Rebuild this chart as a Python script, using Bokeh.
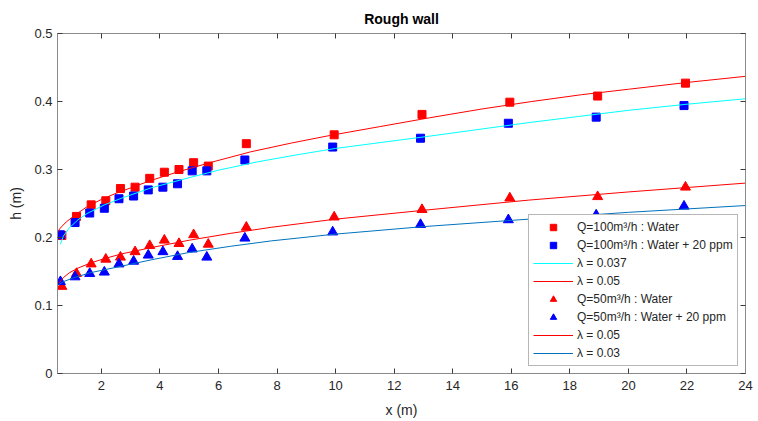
from bokeh.plotting import figure
from bokeh.models import (LinearAxis, FixedTicker, Range1d, Legend, LegendItem)
from bokeh.embed import file_html
from bokeh.resources import INLINE

# ---------------- data ----------------
# Q = 100 m3/h, water (red squares)
x_q100_w = [0.65, 1.15, 1.65, 2.15, 2.65, 3.15, 3.65, 4.15, 4.65, 5.15, 5.65, 6.95, 9.95, 12.95, 15.95, 18.95, 21.95]
h_q100_w = [0.203, 0.231, 0.248, 0.254, 0.272, 0.274, 0.287, 0.296, 0.300, 0.310, 0.305, 0.338, 0.351, 0.381, 0.399, 0.408, 0.427]
# Q = 100 m3/h, water + 20 ppm (blue squares)
x_q100_p = [0.6, 1.1, 1.6, 2.1, 2.6, 3.1, 3.6, 4.1, 4.6, 5.1, 5.6, 6.9, 9.9, 12.9, 15.9, 18.9, 21.9]
h_q100_p = [0.204, 0.222, 0.236, 0.243, 0.257, 0.261, 0.270, 0.274, 0.279, 0.298, 0.298, 0.314, 0.333, 0.346, 0.368, 0.377, 0.394]
# Q = 50 m3/h, water (red triangles)
x_q50_w = [0.65, 1.15, 1.65, 2.15, 2.65, 3.15, 3.65, 4.15, 4.65, 5.15, 5.65, 6.95, 9.95, 12.95, 15.95, 18.95, 21.95]
h_q50_w = [0.128, 0.147, 0.161, 0.168, 0.171, 0.179, 0.188, 0.196, 0.191, 0.204, 0.190, 0.215, 0.230, 0.241, 0.258, 0.260, 0.274]
# Q = 50 m3/h, water + 20 ppm (blue triangles)
x_q50_p = [0.6, 1.1, 1.6, 2.1, 2.6, 3.1, 3.6, 4.1, 4.6, 5.1, 5.6, 6.9, 9.9, 12.9, 15.9, 18.9, 21.9]
h_q50_p = [0.135, 0.142, 0.147, 0.149, 0.161, 0.165, 0.174, 0.179, 0.172, 0.183, 0.171, 0.199, 0.208, 0.219, 0.226, 0.233, 0.246]

# curves
x_c1 = [0.5, 0.6, 0.8, 1.1, 1.5, 2.0, 2.5, 3.0, 3.7, 4.5, 5.7, 7.1, 8.5, 9.8, 11.5, 13.2, 15.0, 16.7, 18.4, 20.0, 22.0, 24.0]
h_c1 = [0.208, 0.214, 0.223, 0.233, 0.245, 0.256, 0.265, 0.273, 0.284, 0.295, 0.310, 0.326, 0.339, 0.350, 0.363, 0.376, 0.389, 0.400, 0.410, 0.418, 0.428, 0.437]   # lambda 0.05, Q100
x_c2 = [0.6, 0.7, 0.9, 1.2, 1.5, 2.1, 2.7, 3.7, 5.0, 6.0, 7.3, 8.6, 10.0, 11.6, 13.2, 14.9, 16.6, 18.3, 20.0, 22.0, 24.0]
h_c2 = [0.190, 0.202, 0.214, 0.226, 0.235, 0.248, 0.258, 0.273, 0.288, 0.299, 0.311, 0.321, 0.331, 0.340, 0.349, 0.359, 0.369, 0.378, 0.387, 0.396, 0.404]   # lambda 0.037
x_c3 = [0.55, 0.7, 0.9, 1.2, 1.6, 2.1, 2.7, 3.8, 5.0, 6.4, 7.8, 10.0, 13.0, 16.6, 20.0, 24.0]
h_c3 = [0.133, 0.141, 0.148, 0.155, 0.162, 0.169, 0.176, 0.186, 0.196, 0.206, 0.215, 0.227, 0.240, 0.255, 0.267, 0.280]   # lambda 0.05, Q50
x_c4 = [0.55, 0.7, 1.0, 1.6, 2.7, 3.8, 5.0, 6.4, 7.8, 10.0, 13.0, 16.6, 20.0, 24.0]
h_c4 = [0.131, 0.135, 0.140, 0.148, 0.158, 0.168, 0.178, 0.187, 0.195, 0.205, 0.216, 0.227, 0.237, 0.247]   # lambda 0.03

x_ticks = [2, 4, 6, 8, 10, 12, 14, 16, 18, 20, 22, 24]
y_ticks = [0, 0.1, 0.2, 0.3, 0.4, 0.5]
y_tick_labels = ["0", "0.1", "0.2", "0.3", "0.4", "0.5"]

labels = ["Q=100m\u00b3/h : Water", "Q=100m\u00b3/h : Water + 20 ppm", "\u03bb = 0.037", "\u03bb = 0.05",
          "Q=50m\u00b3/h : Water", "Q=50m\u00b3/h : Water + 20 ppm", "\u03bb = 0.05", "\u03bb = 0.03"]

FONT = "Liberation Sans"
AX_LINE = "#8a8a8a"
TXT = "#262626"

p = figure(frame_width=688, frame_height=340, output_backend="svg", toolbar_location=None,
           x_range=Range1d(0.5, 24), y_range=Range1d(0, 0.5),
           min_border_left=57, min_border_right=10, min_border_top=33, min_border_bottom=47,
           x_axis_label="x (m)", y_axis_label="h (m)")
p.outline_line_color = None
p.grid.visible = False
p.background_fill_color = "white"
p.border_fill_color = "white"

p.title.text = "Rough wall"
p.title.align = "center"
p.title.text_font = FONT
p.title.text_font_size = "14px"
p.title.text_font_style = "bold"
p.title.text_color = "black"
p.title.standoff = 13

def style_axis(ax, show_labels=True):
    ax.axis_line_color = AX_LINE
    ax.major_tick_line_color = "#3a3a3a"
    ax.major_tick_in = 5
    ax.major_tick_out = 0
    ax.minor_tick_line_color = None
    ax.major_label_text_font = FONT
    ax.major_label_text_color = TXT
    ax.axis_label_text_font = FONT
    ax.axis_label_text_font_style = "normal"
    ax.axis_label_text_color = TXT
    ax.major_label_text_font_size = "13px"
    ax.axis_label_text_font_size = "14px"
    if not show_labels:
        ax.major_label_overrides = {t: "" for t in ax.ticker.ticks}
        ax.major_label_text_font_size = "1px"
        ax.major_label_standoff = 0

xb = p.xaxis[0]
yl = p.yaxis[0]
xb.ticker = FixedTicker(ticks=x_ticks)
yl.ticker = FixedTicker(ticks=y_ticks)
yl.major_label_overrides = dict(zip(y_ticks, y_tick_labels))
style_axis(xb)
style_axis(yl)
xb.major_label_standoff = 7
xb.axis_label_standoff = 9
yl.major_label_standoff = 5
yl.axis_label_standoff = 7

xt = LinearAxis(ticker=FixedTicker(ticks=x_ticks))
yr = LinearAxis(ticker=FixedTicker(ticks=y_ticks))
style_axis(xt, False)
style_axis(yr, False)
p.add_layout(xt, "above")
p.add_layout(yr, "right")

RED = "#ff0000"
BLUE = "#0000ff"

r1 = p.scatter(x_q100_w, h_q100_w, marker="square", size=8, fill_color=RED, line_color=RED)
r2 = p.scatter(x_q100_p, h_q100_p, marker="square", size=8, fill_color=BLUE, line_color=BLUE)
r3 = p.line(x_c2, h_c2, line_color="#00ffff", line_width=1)
r4 = p.line(x_c1, h_c1, line_color=RED, line_width=1)
r5 = p.scatter(x_q50_w, h_q50_w, marker="triangle", size=10, fill_color=RED, line_color=RED)
r6 = p.scatter(x_q50_p, h_q50_p, marker="triangle", size=10, fill_color=BLUE, line_color=BLUE)
r7 = p.line(x_c3, h_c3, line_color=RED, line_width=1)
r8 = p.line(x_c4, h_c4, line_color="#0072bd", line_width=1)

rs = [r1, r2, r3, r4, r5, r6, r7, r8]
items = [LegendItem(label=l, renderers=[r]) for l, r in zip(labels, rs)]
leg = Legend(items=items, location=(471, 7))
leg.glyph_width = 40
leg.glyph_height = 16
leg.label_height = 16
leg.spacing = 2
leg.padding = 4
leg.margin = 0
leg.label_standoff = 4
leg.label_text_font = FONT
leg.label_text_font_size = "12px"
leg.label_text_color = TXT
leg.border_line_color = "#6e6e6e"
leg.border_line_width = 1
leg.background_fill_color = "white"
leg.background_fill_alpha = 1
p.add_layout(leg, "center")

open("out.html", "w").write(file_html(p, INLINE))
